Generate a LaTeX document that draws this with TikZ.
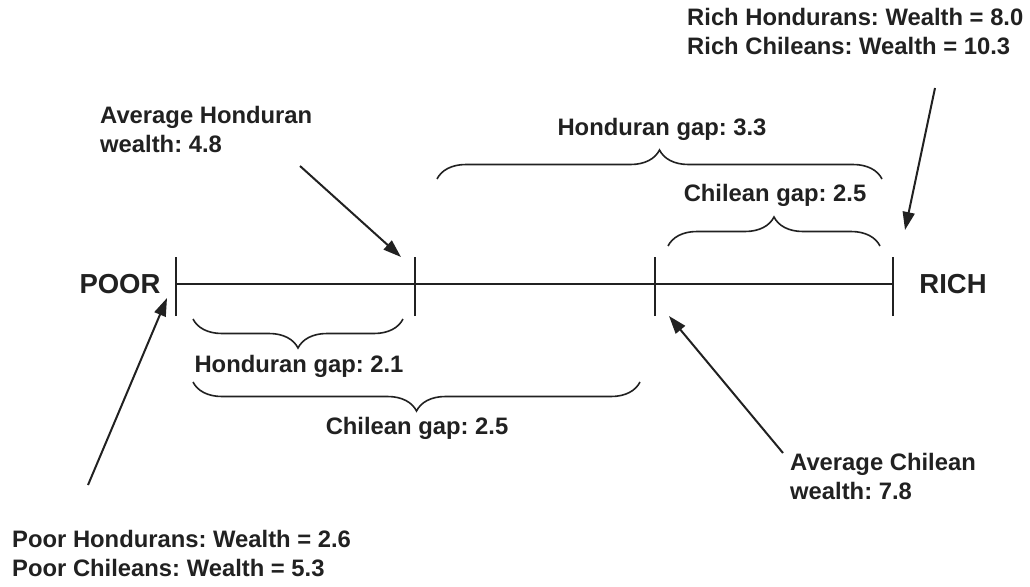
\documentclass[tikz,border=0pt]{standalone}
\usepackage{fontspec}
\setmainfont{Liberation Sans}
\usetikzlibrary{arrows.meta,decorations.pathreplacing}
\begin{document}
\frenchspacing
\begin{tikzpicture}[x=1pt,y=-1pt,
  lbl/.style={font=\bfseries\fontsize{23.8}{29.5}\selectfont,inner sep=0pt,align=left,text=black!87},
  endlbl/.style={font=\bfseries\fontsize{27.5}{30}\selectfont,inner sep=0pt,text=black!87},
  axis/.style={line width=2pt,black!87},
  bracestyle/.style={line width=1.6pt,black!87,decorate,decoration={brace,amplitude=29pt}},
  arr/.style={line width=2pt,black!87,-{Triangle[length=18pt,width=12pt]}}]
\useasboundingbox (0,0) rectangle (1030,586);
% axis and ticks
\coordinate (t1) at (176,284);
\coordinate (t2) at (415,284);
\coordinate (t3) at (655,284);
\coordinate (t4) at (893,284);
\draw[axis] (t1) -- (t4);
\foreach \t in {t1,t2,t3,t4}
  \draw[axis] ([yshift=-32pt]\t) -- ([yshift=27pt]\t);
\node[endlbl] (poor) at (120,284) {POOR};
\node[endlbl] (rich) at (953,284) {RICH};
% braces
\coordinate (b1l) at (193,319); \coordinate (b1r) at (403,319);
\draw[bracestyle] (b1r) -- (b1l);
\node[lbl] (hg21) at (299,366) {Honduran gap: 2.1};
\coordinate (b2l) at (193,382); \coordinate (b2r) at (640,382);
\draw[bracestyle] (b2r) -- (b2l);
\node[lbl] (cg25a) at (417,428) {Chilean gap: 2.5};
\coordinate (b3l) at (437,179); \coordinate (b3r) at (882,179);
\draw[bracestyle] (b3l) -- (b3r);
\node[lbl] (hg33) at (662,129) {Honduran gap: 3.3};
\coordinate (b4l) at (668,246); \coordinate (b4r) at (880,246);
\draw[bracestyle] (b4l) -- (b4r);
\node[lbl] (cg25b) at (775,195) {Chilean gap: 2.5};
% labels
\node[lbl,anchor=north west] (richlbl) at (687,7.6) {Rich Hondurans: Wealth = 8.0\\Rich Chileans: Wealth = 10.3};
\node[lbl,anchor=north west] (avgh) at (100,105.6) {Average Honduran\\wealth: 4.8};
\node[lbl,anchor=north west] (avgc) at (790,452.6) {Average Chilean\\wealth: 7.8};
\node[lbl,anchor=north west] (poorlbl) at (12,529.6) {Poor Hondurans: Wealth = 2.6\\Poor Chileans: Wealth = 5.3};
% arrows
\coordinate (a1s) at (300,166); \coordinate (a1e) at (401,257);
\draw[arr] (a1s) -- (a1e);
\coordinate (a2s) at (88,485); \coordinate (a2e) at (167,298);
\draw[arr] (a2s) -- (a2e);
\coordinate (a3s) at (783,453); \coordinate (a3e) at (669,316);
\draw[arr] (a3s) -- (a3e);
\coordinate (a4s) at (935,88); \coordinate (a4e) at (905,230);
\draw[arr] (a4s) -- (a4e);
\end{tikzpicture}
\end{document}
